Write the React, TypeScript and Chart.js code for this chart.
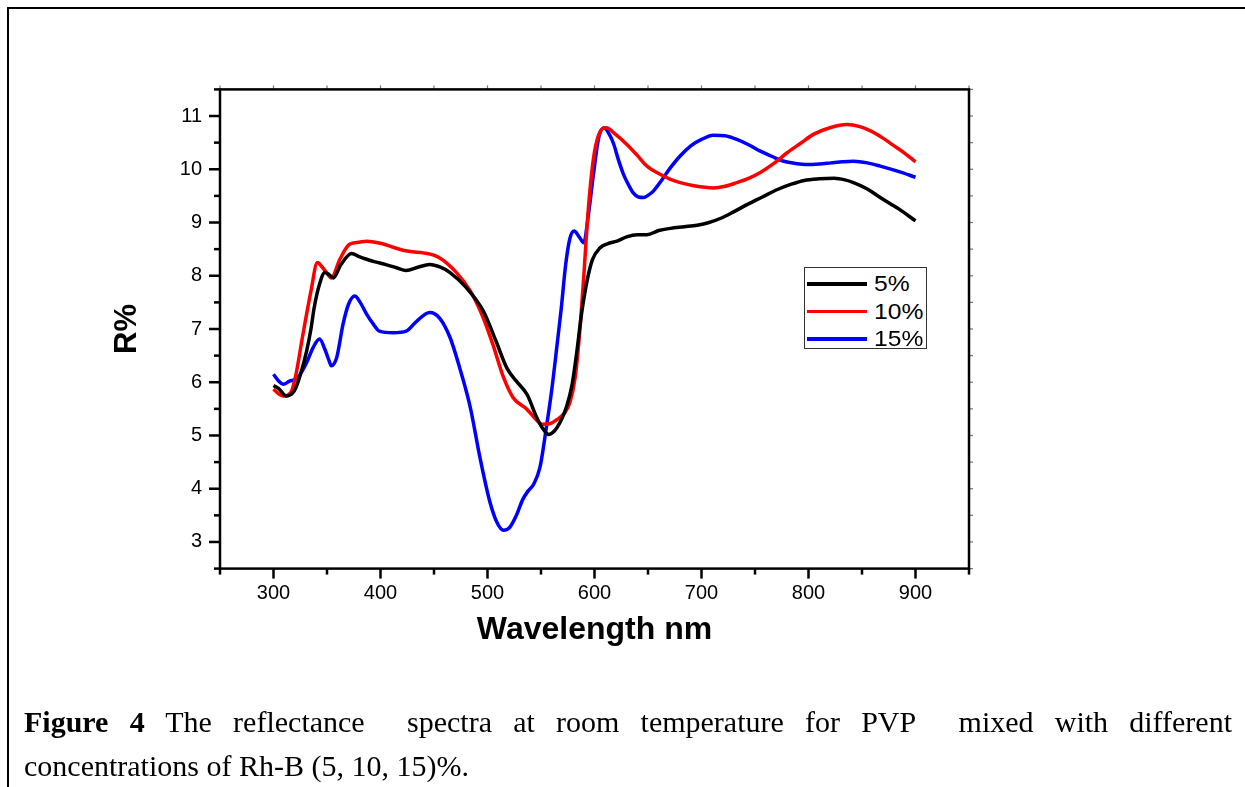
import React, { useEffect, useRef } from 'react';
import { Chart, registerables } from 'chart.js';

Chart.register(...registerables);

// ---- data ----
const wl5 = [300, 305, 312, 318, 321, 326, 331, 335, 338, 343, 348, 352, 356, 363, 373, 380, 387, 395, 405, 415, 424, 435, 446, 456, 465, 480, 496, 508, 518, 527, 537, 546, 552, 557, 565, 574, 579, 583, 588, 593, 598, 605, 612, 621, 630, 640, 649, 660, 671, 684, 696, 707, 718, 730, 743, 757, 771, 784, 796, 810, 824, 834, 842, 855, 867, 884, 900];
const r5 = [5.94, 5.88, 5.74, 5.8, 5.9, 6.2, 6.59, 7.0, 7.4, 7.84, 8.06, 8.02, 7.96, 8.21, 8.42, 8.36, 8.31, 8.26, 8.21, 8.15, 8.1, 8.16, 8.21, 8.16, 8.06, 7.78, 7.34, 6.77, 6.27, 6.02, 5.77, 5.34, 5.12, 5.02, 5.15, 5.55, 5.95, 6.5, 7.3, 7.9, 8.3, 8.52, 8.6, 8.65, 8.73, 8.77, 8.77, 8.85, 8.89, 8.92, 8.95, 9.0, 9.08, 9.2, 9.34, 9.48, 9.62, 9.72, 9.79, 9.82, 9.83, 9.8, 9.75, 9.63, 9.47, 9.26, 9.03];

const wl10 = [300, 305, 309, 316, 321, 327, 335, 341, 346, 350, 354, 362, 371, 380, 387, 395, 402, 411, 421, 430, 440, 455, 471, 484, 496, 505, 515, 524, 537, 544, 551, 558, 565, 572, 577, 582, 586, 590, 594, 599, 604, 611, 620, 630, 640, 649, 660, 671, 682, 693, 711, 722, 733, 744, 755, 767, 780, 792, 805, 820, 836, 848, 858, 870, 880, 890, 900];
const r10 = [5.87, 5.78, 5.74, 5.8, 6.15, 6.84, 7.71, 8.25, 8.15, 8.05, 7.96, 8.31, 8.59, 8.63, 8.65, 8.63, 8.6, 8.54, 8.48, 8.45, 8.43, 8.34, 8.06, 7.71, 7.21, 6.71, 6.09, 5.71, 5.49, 5.33, 5.21, 5.22, 5.3, 5.42, 5.62, 6.1, 6.9, 8.0, 9.2, 10.2, 10.65, 10.78, 10.65, 10.47, 10.26, 10.06, 9.92, 9.81, 9.74, 9.69, 9.65, 9.68, 9.75, 9.83, 9.94, 10.1, 10.31, 10.48, 10.66, 10.78, 10.84, 10.8, 10.72, 10.58, 10.44, 10.3, 10.14];

const wl15 = [300, 305, 309, 315, 320, 324, 331, 337, 343, 348, 352, 354, 359, 365, 370, 376, 381, 387, 393, 399, 412, 424, 434, 446, 455, 465, 474, 484, 493, 502, 509, 515, 521, 527, 533, 538, 543, 549, 555, 560, 565, 569, 573, 577, 581, 586, 590, 594, 599, 604, 609, 614, 618, 622, 627, 632, 636, 641, 646, 650, 655, 663, 671, 680, 690, 700, 711, 722, 733, 744, 755, 766, 777, 788, 799, 810, 821, 832, 842, 855, 867, 884, 900];
const r15 = [6.15, 6.02, 5.96, 6.02, 6.05, 6.12, 6.37, 6.65, 6.81, 6.62, 6.4, 6.31, 6.46, 7.09, 7.46, 7.62, 7.5, 7.28, 7.1, 6.96, 6.93, 6.96, 7.15, 7.31, 7.21, 6.84, 6.27, 5.52, 4.58, 3.77, 3.36, 3.22, 3.28, 3.5, 3.8, 3.96, 4.08, 4.4, 5.15, 5.85, 6.7, 7.4, 8.2, 8.7, 8.84, 8.72, 8.62, 9.1, 9.9, 10.6, 10.78, 10.65, 10.47, 10.2, 9.91, 9.7, 9.56, 9.48, 9.47, 9.51, 9.59, 9.8, 10.03, 10.25, 10.44, 10.56, 10.64, 10.63, 10.56, 10.46, 10.34, 10.24, 10.15, 10.11, 10.09, 10.1, 10.12, 10.14, 10.15, 10.12, 10.06, 9.96, 9.85];

const SERIES_LABELS = ['5%', '10%', '15%'];
const SERIES_COLORS = ['#000000', '#ff0000', '#0000ff'];

const X_TICKS = [300, 400, 500, 600, 700, 800, 900];
const X_MINOR = [250, 350, 450, 550, 650, 750, 850, 950];
const Y_TICKS = [3, 4, 5, 6, 7, 8, 9, 10, 11];
const Y_MINOR = [2.5, 3.5, 4.5, 5.5, 6.5, 7.5, 8.5, 9.5, 10.5, 11.5];

const X_TITLE = 'Wavelength nm';
const Y_TITLE = 'R%';
const CAPTION_BOLD = 'Figure 4';
const CAPTION_LINE1 = ' The reflectance\u00a0 spectra at room temperature for PVP\u00a0 mixed with different';
const CAPTION_LINE2 = 'concentrations of Rh-B (5, 10, 15)%.';

const W = 1245;
const H = 787;

const framePlugin = {
  id: 'frameTicks',
  afterDraw(chart: any) {
    const { ctx, chartArea: a, scales } = chart;
    const xs = scales.x;
    const ys = scales.y;
    ctx.save();
    const line = (x1: number, y1: number, x2: number, y2: number, w: number, c: string) => {
      ctx.beginPath();
      ctx.lineWidth = w;
      ctx.strokeStyle = c;
      ctx.moveTo(x1, y1);
      ctx.lineTo(x2, y2);
      ctx.stroke();
    };
    X_TICKS.forEach((v) => {
      const p = xs.getPixelForValue(v);
      line(p, a.bottom, p, a.bottom + 10, 2.5, '#000');
    });
    X_MINOR.forEach((v) => {
      const p = xs.getPixelForValue(v);
      line(p, a.bottom, p, a.bottom + 6, 2.5, '#000');
    });
    Y_TICKS.forEach((v) => {
      const p = ys.getPixelForValue(v);
      line(a.left, p, a.left - 11, p, 2.5, '#000');
    });
    Y_MINOR.forEach((v) => {
      const p = ys.getPixelForValue(v);
      line(a.left, p, a.left - 6, p, 2.5, '#000');
    });
    [...X_TICKS, ...X_MINOR].forEach((v) => {
      const p = xs.getPixelForValue(v);
      line(p, a.top, p, a.top - 4, 1.2, '#777');
    });
    [...Y_TICKS, ...Y_MINOR].forEach((v) => {
      const p = ys.getPixelForValue(v);
      line(a.right, p, a.right + 4, p, 1.2, '#777');
    });
    ctx.lineWidth = 2.5;
    ctx.strokeStyle = '#000';
    ctx.strokeRect(a.left, a.top, a.right - a.left, a.bottom - a.top);
    ctx.restore();
  },
};

export default function App() {
  const ref = useRef<HTMLCanvasElement | null>(null);

  useEffect(() => {
    if (!ref.current) return;
    const mk = (xs: number[], ys: number[]) => xs.map((x, i) => ({ x, y: ys[i] }));
    const series = [mk(wl5, r5), mk(wl10, r10), mk(wl15, r15)];
    const chart = new Chart(ref.current, {
      type: 'line',
      data: {
        datasets: series.map((d, i) => ({
          label: SERIES_LABELS[i],
          data: d,
          borderColor: SERIES_COLORS[i],
          backgroundColor: SERIES_COLORS[i],
          borderWidth: 3.5,
          pointRadius: 0,
          cubicInterpolationMode: 'monotone' as const,
          fill: false,
        })),
      },
      options: {
        animation: false,
        responsive: false,
        devicePixelRatio: 1,
        layout: { padding: { left: 109, top: 89.4, right: W - 969, bottom: 138 } },
        plugins: { legend: { display: false }, tooltip: { enabled: false }, title: { display: false } },
        scales: {
          x: {
            type: 'linear',
            min: 250,
            max: 950,
            afterBuildTicks: (s: any) => {
              s.ticks = X_TICKS.map((v) => ({ value: v }));
            },
            afterFit: (s: any) => {
              s.height = H - 138 - 568.6;
            },
            grid: { display: true, drawOnChartArea: false, drawTicks: true, tickLength: 10, color: 'rgba(0,0,0,0)' },
            border: { display: false },
            ticks: {
              padding: 3,
              color: '#000',
              font: { family: "'Liberation Sans', Arial, sans-serif", size: 20 },
              maxRotation: 0,
            },
            title: {
              display: true,
              text: X_TITLE,
              color: '#000',
              padding: 0,
              font: { family: "'Liberation Sans', Arial, sans-serif", size: 32, weight: 'bold' },
            },
          },
          y: {
            type: 'linear',
            min: 2.5,
            max: 11.5,
            afterBuildTicks: (s: any) => {
              s.ticks = Y_TICKS.map((v) => ({ value: v }));
            },
            afterFit: (s: any) => {
              s.width = 220 - 109;
            },
            grid: { display: true, drawOnChartArea: false, drawTicks: true, tickLength: 10, color: 'rgba(0,0,0,0)' },
            border: { display: false },
            ticks: {
              padding: 8,
              color: '#000',
              font: { family: "'Liberation Sans', Arial, sans-serif", size: 20 },
            },
            title: {
              display: true,
              text: Y_TITLE,
              color: '#000',
              padding: 0,
              font: { family: "'Liberation Sans', Arial, sans-serif", size: 31, weight: 'bold' },
            },
          },
        },
      },
      plugins: [framePlugin],
    } as any);
    return () => chart.destroy();
  }, []);

  return (
    <div style={{ position: 'absolute', left: 0, top: 0, width: W, height: H, overflow: 'hidden', background: '#fff' }}>
      <div
        style={{
          position: 'absolute',
          left: 7,
          top: 7,
          width: W,
          height: H,
          borderTop: '2.5px solid #000',
          borderLeft: '2.5px solid #000',
          boxSizing: 'border-box',
        }}
      />
      <canvas ref={ref} width={W} height={H} style={{ position: 'absolute', left: 0, top: 0, width: W, height: H }} />
      <div
        style={{
          position: 'absolute',
          left: 804,
          top: 267,
          width: 123,
          height: 82,
          border: '1.5px solid #333',
          boxSizing: 'border-box',
          background: '#fff',
        }}
      >
        {SERIES_LABELS.map((lab, i) => (
          <div key={lab} style={{ position: 'absolute', left: 2, top: 3 + i * 27.5, height: 26, width: 118 }}>
            <div style={{ position: 'absolute', left: 0, top: 11, width: 60, height: 3.5, background: SERIES_COLORS[i] }} />
            <span
              style={{
                position: 'absolute',
                left: 67,
                top: 0,
                fontFamily: "'Liberation Sans', Arial, sans-serif",
                fontSize: 22,
                lineHeight: '26px',
                color: '#000',
                transform: 'scaleX(1.12)',
                transformOrigin: 'left center',
                whiteSpace: 'nowrap',
              }}
            >
              {lab}
            </span>
          </div>
        ))}
      </div>
      <div
        style={{
          position: 'absolute',
          left: 24,
          top: 700,
          width: 1208,
          fontFamily: "'Liberation Serif', 'Times New Roman', serif",
          fontSize: 30,
          lineHeight: '44px',
          color: '#000',
        }}
      >
        <div style={{ textAlign: 'justify', textAlignLast: 'justify' } as any}>
          <b>{CAPTION_BOLD}</b>
          {CAPTION_LINE1}
        </div>
        <div>{CAPTION_LINE2}</div>
      </div>
    </div>
  );
}
